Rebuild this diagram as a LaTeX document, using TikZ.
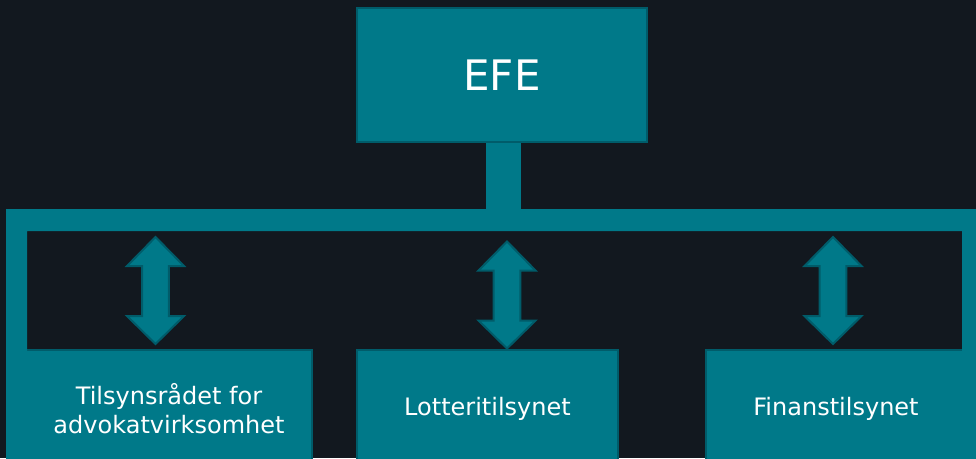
\documentclass[tikz,border=0pt]{standalone}
\usepackage{fontspec}
\setmainfont{DejaVu Sans}
\definecolor{bgdark}{RGB}{18,24,31}
\definecolor{teal1}{RGB}{0,121,137}
\definecolor{tealdark}{RGB}{0,92,106}
\tikzset{
  orgbox/.style={draw=tealdark, line width=2.5pt, fill=teal1, text=white, align=center, inner sep=0pt, font=\fontsize{24}{29}\selectfont},
  framefill/.style={fill=teal1},
  stemline/.style={draw=teal1, line width=35pt},
  blockarrow/.style={fill=teal1, draw=tealdark, line width=2pt, line join=miter},
  pics/dblarrow/.style={code={
    \draw[blockarrow] (0,0) -- (28.5,29) -- (13.3,29) -- (13.3,79) -- (28.5,79) -- (0,107)
      -- (-28.5,79) -- (-13.3,79) -- (-13.3,29) -- (-28.5,29) -- cycle;
  }}
}
\begin{document}
\begin{tikzpicture}[x=1pt,y=-1pt]
\fill[bgdark] (0,0) rectangle (976,458);
\useasboundingbox (0,0) rectangle (976,458);
\begin{scope}
\clip (0,0) rectangle (976,458);
% top box
\node[orgbox, minimum width=290pt, minimum height=134pt, font=\fontsize{42}{50}\selectfont] (efe) at (502,75) {EFE};
% frame corners
\coordinate (ftl) at (6,209);
\coordinate (fjoin) at (503.5,209);
% stem
\draw[stemline] ([xshift=1.5pt]efe.south) -- ([xshift=1.5pt]efe.south |- fjoin);
% bottom boxes
\node[orgbox, minimum width=286pt, minimum height=118pt] (b1) at (169,409) {Tilsynsrådet for\\advokatvirksomhet};
\node[orgbox, minimum width=261pt, minimum height=118pt] (b2) at (487.5,409) {Lotteritilsynet};
\node[orgbox, minimum width=260pt, minimum height=118pt] (b3) at (836,409) {Finanstilsynet};
% frame
\fill[framefill] (6,475) -- (ftl) -- (995,209) -- (995,475) -- (962,475) -- (962,231) -- (27,231) -- (27,475) -- cycle;
% arrows
\pic at (155.5,237) {dblarrow};
\pic at (507,241.5) {dblarrow};
\pic at (833,237) {dblarrow};
\end{scope}
\end{tikzpicture}
\end{document}
